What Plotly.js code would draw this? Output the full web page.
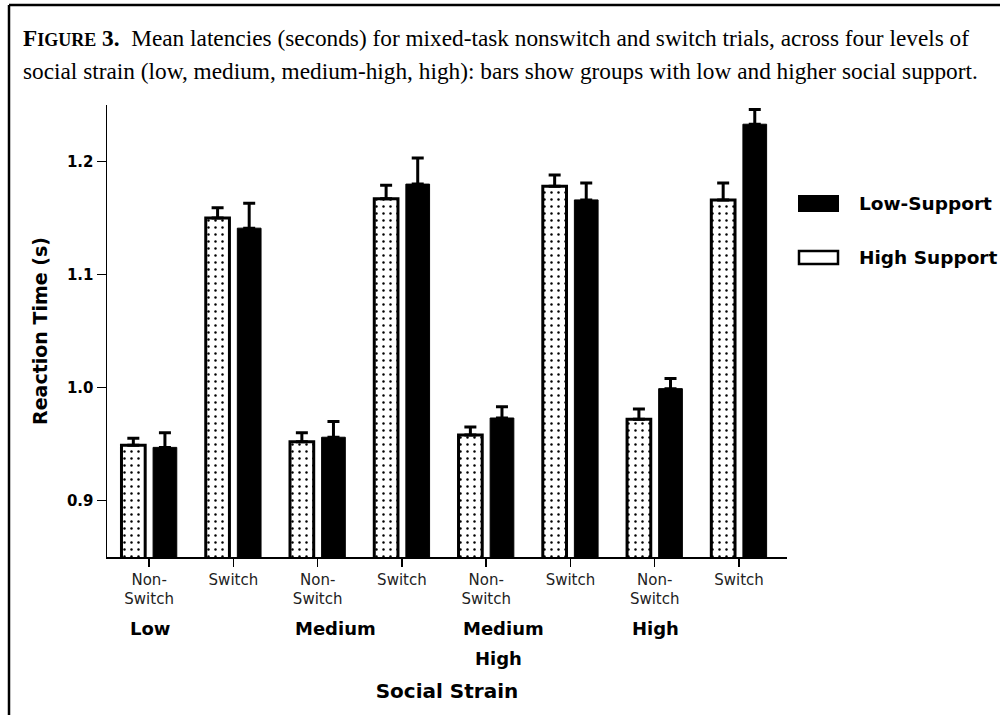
<!DOCTYPE html>
<html>
<head>
<meta charset="utf-8">
<script src="https://cdn.plot.ly/plotly-3.0.1.min.js"></script>
<style>
  html, body { margin: 0; padding: 0; background: #fff; }
  #chart { width: 1007px; height: 715px; }
</style>
</head>
<body>
<div id="chart"></div>
<script>
// Trial conditions along the x axis (strain level x trial type)
const conditions = [
  'Low NS', 'Low S', 'Medium NS', 'Medium S',
  'MedHigh NS', 'MedHigh S', 'High NS', 'High S'
];
const tickLabels = [
  'Non-<br>Switch', 'Switch', 'Non-<br>Switch', 'Switch',
  'Non-<br>Switch', 'Switch', 'Non-<br>Switch', 'Switch'
];

// Mean reaction times (s)
const highSupport = [0.949, 1.150, 0.952, 1.167, 0.958, 1.178, 0.972, 1.166];
const lowSupport  = [0.947, 1.141, 0.956, 1.180, 0.973, 1.166, 0.999, 1.233];

// Standard errors (upper bars only)
const highSupportErr = [0.006, 0.009, 0.008, 0.012, 0.007, 0.010, 0.009, 0.015];
const lowSupportErr  = [0.013, 0.022, 0.014, 0.023, 0.010, 0.015, 0.009, 0.013];

// Social strain group labels, placed under the Non-Switch tick of each group
const strainLevels = [['Low'], ['Medium'], ['Medium', 'High'], ['High']];
const strainAnchor = ['Low NS', 'Medium NS', 'MedHigh NS', 'High NS'];

const seriesNames = ['High Support', 'Low-Support'];

// Plot area geometry (pixels)
const W = 1007, H = 715;
const M = { l: 107, r: 220, t: 105, b: 158 };
const PW = W - M.l - M.r, PH = H - M.t - M.b;
const px = x => (x - M.l) / PW;
const py = y => (H - M.b - y) / PH;

const zeros = highSupport.map(() => 0);

const traces = [
  {
    type: 'bar',
    name: seriesNames[0],
    x: conditions,
    y: highSupport,
    marker: {
      color: '#ffffff',
      line: { color: '#000000', width: 3 },
      pattern: { shape: '.', fgcolor: '#000000', bgcolor: '#ffffff', size: 7, solidity: 0.1 }
    },
    error_y: {
      type: 'data', symmetric: false, array: highSupportErr, arrayminus: zeros,
      color: '#000000', thickness: 3, width: 6
    },
    showlegend: false
  },
  {
    type: 'bar',
    name: seriesNames[1],
    x: conditions,
    y: lowSupport,
    marker: { color: '#000000', line: { color: '#000000', width: 1 } },
    error_y: {
      type: 'data', symmetric: false, array: lowSupportErr, arrayminus: zeros,
      color: '#000000', thickness: 3, width: 6
    },
    showlegend: false
  }
];

const sans = 'DejaVu Sans, Arial, sans-serif';
const serif = 'Liberation Serif, Times New Roman, serif';

const annotations = [];

// Caption
annotations.push({
  xref: 'paper', yref: 'paper', x: px(21), y: py(38),
  xanchor: 'left', yanchor: 'middle', showarrow: false, align: 'left',
  text: '<b>F<span style="font-size:18px">IGURE</span> 3.</b>  Mean latencies (seconds) for mixed-task nonswitch and switch trials, across four levels of',
  font: { family: serif, size: 23.3, color: '#000' }
});
annotations.push({
  xref: 'paper', yref: 'paper', x: px(21), y: py(71),
  xanchor: 'left', yanchor: 'middle', showarrow: false, align: 'left',
  text: 'social strain (low, medium, medium-high, high): bars show groups with low and higher social support.',
  font: { family: serif, size: 23.3, color: '#000' }
});

// Strain group labels (one annotation per text line)
strainLevels.forEach((lines, i) => {
  lines.forEach((lab, j) => {
    annotations.push({
      xref: 'x', yref: 'paper', x: strainAnchor[i], y: py(628 + 30 * j),
      xanchor: 'center', yanchor: 'middle', showarrow: false,
      xshift: i === 1 ? 18 : (i === 2 ? (j === 0 ? 17 : 12) : 1),
      text: '<b>' + lab + '</b>',
      font: { family: sans, size: 18, color: '#000' }
    });
  });
});

// Legend
annotations.push({
  xref: 'paper', yref: 'paper', x: px(857), y: py(203),
  xanchor: 'left', yanchor: 'middle', showarrow: false,
  text: '<b>' + seriesNames[1] + '</b>',
  font: { family: sans, size: 18.5, color: '#000' }
});
annotations.push({
  xref: 'paper', yref: 'paper', x: px(857), y: py(257),
  xanchor: 'left', yanchor: 'middle', showarrow: false,
  text: '<b>' + seriesNames[0] + '</b>',
  font: { family: sans, size: 18.5, color: '#000' }
});

const shapes = [
  // frame
  { type: 'line', xref: 'paper', yref: 'paper', x0: px(9), x1: px(1000), y0: py(5), y1: py(5),
    line: { color: '#000', width: 2.5 } },
  { type: 'line', xref: 'paper', yref: 'paper', x0: px(9), x1: px(9), y0: py(5), y1: py(716),
    line: { color: '#000', width: 2.5 } },
  // legend keys
  { type: 'rect', xref: 'paper', yref: 'paper', x0: px(799), x1: px(838), y0: py(196), y1: py(211),
    fillcolor: '#000', line: { color: '#000', width: 2 } },
  { type: 'rect', xref: 'paper', yref: 'paper', x0: px(799), x1: px(838), y0: py(251), y1: py(264),
    fillcolor: '#fff', line: { color: '#000', width: 2.5 } }
];

const layout = {
  width: W, height: H,
  margin: M,
  paper_bgcolor: '#ffffff', plot_bgcolor: '#ffffff',
  barmode: 'group', bargap: 0.25, bargroupgap: 0.25,
  showlegend: false,
  xaxis: {
    type: 'category',
    categoryorder: 'array', categoryarray: conditions,
    tickvals: conditions, ticktext: tickLabels,
    range: [-0.5, 7.57],
    showline: true, linecolor: '#000', linewidth: 1.5,
    ticks: 'outside', ticklen: 8, tickwidth: 1.5, tickcolor: '#000',
    tickfont: { family: sans, size: 15, color: '#222' },
    showgrid: false, zeroline: false,
    title: {
      text: '<b>Social Strain</b>',
      font: { family: sans, size: 20, color: '#000' },
      standoff: 77
    }
  },
  yaxis: {
    range: [0.85, 1.25],
    tickvals: [0.9, 1.0, 1.1, 1.2],
    tickformat: '.1f',
    showline: true, linecolor: '#000', linewidth: 1.5,
    ticks: 'outside', ticklen: 9, tickwidth: 1.5, tickcolor: '#000',
    tickfont: { family: sans, size: 15, color: '#000', weight: 'bold' },
    showgrid: false, zeroline: false,
    title: {
      text: '<b>Reaction Time (s)</b>',
      font: { family: sans, size: 19, color: '#000' },
      standoff: 14
    }
  },
  annotations: annotations,
  shapes: shapes
};

Plotly.newPlot('chart', traces, layout, { displayModeBar: false, staticPlot: true });
</script>
</body>
</html>
